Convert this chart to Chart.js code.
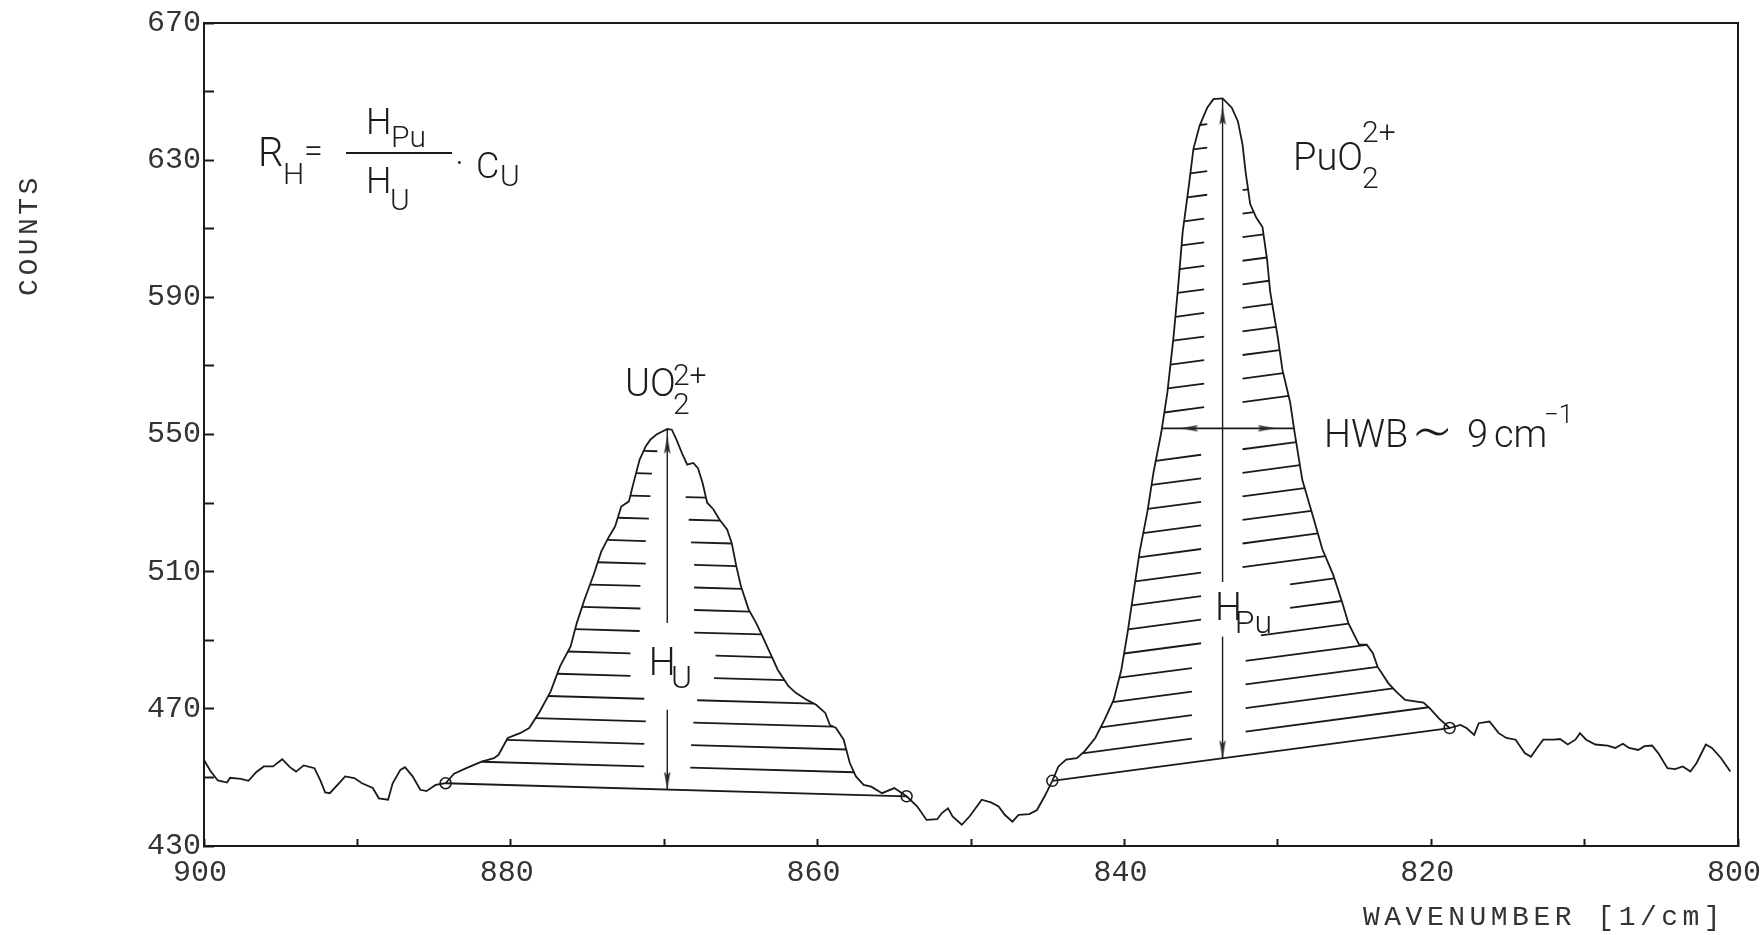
<!DOCTYPE html>
<html>
<head>
<meta charset="utf-8">
<script src="https://cdn.jsdelivr.net/npm/chart.js@4.4.1/dist/chart.umd.min.js"></script>
<style>
html,body{margin:0;padding:0;background:#fff;}
canvas{display:block;}
</style>
</head>
<body>
<canvas id="c" width="1760" height="935" style="width:1760px;height:935px"></canvas>
<script>
// ---------------- data ----------------
const waveNumber = [
900.0,899.6,899.1,898.5,898.3,897.6,897.1,896.6,896.1,895.5,894.9,894.4,894.0,893.5,892.8,892.4,892.1,891.8,891.1,890.8,
890.2,889.7,889.0,888.6,888.0,887.7,887.2,886.9,886.4,885.9,885.5,884.9,884.25,883.7,882.9,881.9,881.1,880.8,880.2,879.4,
878.8,878.1,877.4,876.8,876.1,875.7,875.2,874.6,874.1,873.6,873.2,872.8,872.3,872.0,871.6,871.2,870.9,870.5,869.8,869.5,
869.2,868.8,868.5,868.1,867.8,867.5,867.2,866.8,866.4,865.9,865.6,865.3,865.0,864.5,864.0,863.6,863.1,862.6,861.9,861.4,
860.7,860.1,859.5,859.2,858.8,858.3,857.9,857.5,857.0,856.5,855.8,855.0,854.2,853.5,852.9,852.2,851.9,851.5,851.2,850.6,
850.1,849.3,848.7,848.2,847.8,847.3,846.9,846.2,845.7,845.2,844.7,844.3,843.8,843.1,842.6,841.9,841.3,840.7,840.2,839.8,
839.4,839.0,838.5,838.1,837.6,837.2,836.8,836.5,836.2,835.8,835.5,835.1,834.6,834.2,833.6,833.0,832.6,832.3,832.1,831.8,
831.4,831.0,830.7,830.5,830.0,829.7,829.2,828.9,828.4,827.7,827.1,826.4,825.8,825.4,824.7,824.2,823.8,823.5,822.8,822.3,
821.7,820.5,820.1,819.5,818.8,818.1,817.7,817.2,816.9,816.2,815.6,815.1,814.5,813.9,813.5,813.1,812.7,812.0,811.6,811.1,
810.6,810.3,809.9,809.3,808.5,808.0,807.5,807.1,806.5,806.1,805.6,805.2,804.6,804.1,803.6,803.1,802.7,802.1,801.7,801.1,
800.5
];
const counts = [
455.1,452.0,449.1,448.5,449.9,449.6,449.0,451.5,453.2,453.2,455.3,453.0,451.7,453.5,452.7,449.0,445.6,445.4,448.8,450.3,
449.8,448.3,446.9,443.9,443.5,448.3,452.2,453.0,450.3,446.4,446.0,447.8,448.3,451.1,452.7,454.6,455.6,456.6,461.5,462.9,
464.4,469.3,475.1,482.3,488.2,495.0,501.8,509.1,515.9,520.2,523.2,529.0,530.5,535.9,542.7,546.6,548.5,550.0,551.6,551.4,
548.5,544.1,541.2,541.7,540.2,535.9,530.1,528.2,525.2,522.3,518.4,511.6,505.8,499.0,495.0,491.2,486.3,481.4,476.6,474.6,
472.6,471.2,468.8,465.3,464.4,461.0,454.2,450.3,447.8,447.3,445.4,446.9,444.5,441.5,437.6,437.8,439.6,441.0,438.6,436.2,
438.6,443.5,442.7,441.5,439.1,437.1,439.1,439.3,440.5,444.5,449.0,453.2,455.2,455.6,457.6,461.5,466.8,472.6,481.4,492.0,
504.0,516.0,527.5,539.0,550.5,562.2,578.3,593.0,609.1,622.5,633.3,640.0,645.3,647.8,648.0,645.3,641.3,634.6,626.6,617.2,
613.2,610.5,601.1,591.7,578.3,568.9,559.5,550.5,536.7,526.0,516.6,509.2,501.0,495.0,488.7,488.7,486.2,482.3,477.5,475.1,
472.6,471.8,470.2,467.2,464.4,465.3,464.4,462.4,465.8,466.3,462.9,461.5,461.0,457.1,456.0,458.6,461.0,461.0,461.2,459.6,
461.0,462.9,461.0,459.6,459.3,458.6,459.8,458.6,458.0,459.1,459.3,457.1,452.7,452.4,453.2,451.7,454.2,459.6,458.6,455.6,
451.7
];

// axis tick labels
const xTickLabels = [900, 880, 860, 840, 820, 800];
const yTickLabels = [430, 470, 510, 550, 590, 630, 670];

// baseline anchor points (wavenumber, counts) of the two peaks
const uBaseX = [884.25, 854.2];
const uBaseY = [448.3, 444.5];
const puBaseX = [844.7, 818.8];
const puBaseY = [449.0, 464.4];

// hatching: number of height divisions and gaps left/right of the height arrow (cm-1)
const uDivisions = 16;
const uGapLeft  = [1.5,1.5,1.4,1.5,2.4,2.4,1.8,1.75,1.75,1.4,1.4,1.2,1.1,1.0,0.65];
const uGapRight = [1.5,1.55,1.7,1.95,3.05,3.15,1.75,1.75,1.75,1.75,1.55,1.4,1.2,9,9];
const puDivisions = 28;
const puGapLeft  = [2.0,2.0,2.0,2.0,1.4,1.4,1.4,1.4,1.4,1.4,1.4,1.4,1.4,0,1.2,1.2,1.2,1.2,1.2,1.2,1.2,1.2,1.2,1.0,1.0,1.0,1.0];
const puGapRight = [1.5,1.5,1.5,1.5,2.5,4.4,4.4,1.3,1.3,1.3,1.3,1.3,1.3,0,1.3,1.3,1.3,1.3,1.3,1.3,1.3,1.3,1.3,1.3,1.3,1.3,1.3];
const puHwbLine = 14;

// where the vertical height arrows are interrupted by their labels (counts)
const uArrowBreak = [495.0, 469.7];
const puArrowBreak = [507.0, 491.0];

// fraction bar of the formula
const fracBarX = [890.74, 883.83];
const fracBarY = [632.1, 632.1];

// annotation texts (data coordinates of text baseline start)
const annotText = ['R','H','=','H','Pu','H','U','\u00B7','C','U',
                   'UO','2','2+','PuO','2','2+',
                   'HWB','\u223C','9','cm','\u22121',
                   'H','U','H','Pu'];
const annotX = [896.48,894.85,893.48,889.44,887.81,889.44,887.87,883.64,882.27,880.70,
                872.56,869.43,869.43,829.01,824.51,824.51,
                826.99,821.3,817.67,815.91,812.65,
                871.0,869.55,834.1,832.8];
const annotY = [628.3,623.1,629.5,637.6,633.9,620.4,615.5,625.4,624.8,622.5,
                561.3,556.0,564.4,627.1,621.9,635.2,
                546.4,544.0,546.4,546.4,553.4,
                479.9,476.1,495.9,492.2];
const annotSize = [40,30,34,36,30,36,30,36,36,30,
                   38,30,30,38,30,30,
                   38,66,38,38,26,
                   38,32,38,32];
const annotFamily = ['main','main','main','main','main','main','main','main','main','main',
                     'main','main','main','main','main','main',
                     'main','sym','main','main','main',
                     'main','main','main','main'];

// ---------------- derived geometry ----------------
function makeBase(bx, by) {
  const m = (by[1] - by[0]) / (bx[1] - bx[0]);
  return x => by[0] + (x - bx[0]) * m;
}
function peakIdx(bx) {
  let ip = -1;
  for (let i = 0; i < waveNumber.length; i++) {
    const w = waveNumber[i];
    if (w < bx[0] && w > bx[1] && (ip < 0 || counts[i] > counts[ip])) ip = i;
  }
  return ip;
}
function cross(ip, base, lev, dir) {
  let i = ip;
  while (i + dir >= 0 && i + dir < waveNumber.length) {
    const j = i + dir;
    const a = counts[i] - base(waveNumber[i]) - lev;
    const b = counts[j] - base(waveNumber[j]) - lev;
    if (a >= 0 && b < 0) {
      const t = a / (a - b);
      return waveNumber[i] + t * (waveNumber[j] - waveNumber[i]);
    }
    i = j;
  }
  return waveNumber[i];
}
function hatchSegments(bx, by, div, gL, gR, skip) {
  const base = makeBase(bx, by), ip = peakIdx(bx), px = waveNumber[ip];
  const d = (counts[ip] - base(px)) / div;
  const out = [];
  for (let k = 1; k < div; k++) {
    if (k === skip) continue;
    const lev = k * d;
    const xl = cross(ip, base, lev, -1), xr = cross(ip, base, lev, 1);
    const le = px + gL[k - 1], rs = px - gR[k - 1];
    if (xl - le > 0.2) out.push({x: xl, y: base(xl) + lev}, {x: le, y: base(le) + lev}, {x: le, y: null});
    if (rs - xr > 0.2) out.push({x: rs, y: base(rs) + lev}, {x: xr, y: base(xr) + lev}, {x: xr, y: null});
  }
  return out;
}
function arrowSegs(bx, by, brk) {
  const base = makeBase(bx, by), ip = peakIdx(bx), px = waveNumber[ip];
  return [{x: px, y: counts[ip]}, {x: px, y: brk[0]}, {x: px, y: null},
          {x: px, y: brk[1]}, {x: px, y: base(px)}];
}

const spectrum = waveNumber.map((w, i) => ({x: w, y: counts[i]}));
const uBase = makeBase(uBaseX, uBaseY), puBase = makeBase(puBaseX, puBaseY);
const ipU = peakIdx(uBaseX), ipPu = peakIdx(puBaseX);
const pxU = waveNumber[ipU], pxPu = waveNumber[ipPu];
const hwbLevel = (counts[ipPu] + puBase(pxPu)) / 2;
const flat = () => hwbLevel;
const hwbL = cross(ipPu, flat, 0, -1), hwbR = cross(ipPu, flat, 0, 1);

// dart-shaped arrow head used as point style
const dart = document.createElement('canvas');
dart.width = 8; dart.height = 18;
(function () {
  const g = dart.getContext('2d');
  g.beginPath(); g.moveTo(4, 0); g.lineTo(7.2, 18); g.lineTo(4, 14.5); g.lineTo(0.8, 18); g.closePath();
  g.fillStyle = '#2a2a2a'; g.fill();
})();
const halfDartY = 2.6, halfDartX = 0.59;   // half dart length in counts / cm-1
const heads = [
  {x: pxU, y: counts[ipU] - 2 - halfDartY},
  {x: pxU, y: uBase(pxU) + halfDartY},
  {x: pxPu, y: counts[ipPu] - 2.5 - halfDartY},
  {x: pxPu, y: puBase(pxPu) + halfDartY},
  {x: hwbL - 1.2 - halfDartX, y: hwbLevel},
  {x: hwbR + 1.2 + halfDartX, y: hwbLevel}
];
const headRot = [0, 180, 0, 180, 270, 90];

const INK = '#1a1a1a';
const lineDs = (data, w, order) => ({data, showLine: true, borderColor: INK, borderWidth: w,
  pointRadius: 0, pointHoverRadius: 0, spanGaps: false, tension: 0, order});

// ---------------- plugin for texts ----------------
const FAMILIES = {
  main: 'Roboto, "Liberation Sans", "DejaVu Sans", sans-serif',
  sym: '"DejaVu Sans", "Liberation Sans", sans-serif'
};
const textPlugin = {
  id: 'texts',
  afterDraw(chart) {
    const {ctx, chartArea} = chart;
    const xs = chart.scales.x, ys = chart.scales.y;
    ctx.save();
    ctx.fillStyle = '#1c1c1c';
    ctx.textBaseline = 'alphabetic';
    ctx.textAlign = 'left';
    for (let i = 0; i < annotText.length; i++) {
      const w = annotFamily[i] === 'sym' ? '200 ' : '300 ';
      ctx.font = w + annotSize[i] + 'px ' + FAMILIES[annotFamily[i]];
      ctx.fillText(annotText[i], xs.getPixelForValue(annotX[i]), ys.getPixelForValue(annotY[i]));
    }
    // axis titles
    ctx.font = '28px "Liberation Mono", monospace';
    ctx.fillStyle = '#333';
    try { ctx.letterSpacing = '3.5px'; } catch (e) {}
    ctx.save();
    ctx.translate(chartArea.left - 174, chartArea.top + 212);
    ctx.rotate(-Math.PI / 2);
    ctx.textAlign = 'center';
    ctx.textBaseline = 'middle';
    ctx.fillText('COUNTS', 0, 0);
    ctx.restore();
    try { ctx.letterSpacing = '4.5px'; } catch (e) {}
    ctx.textAlign = 'left';
    ctx.textBaseline = 'alphabetic';
    ctx.fillText('WAVENUMBER [1/cm]', chartArea.right - 375, chartArea.bottom + 79);
    try { ctx.letterSpacing = '0px'; } catch (e) {}
    ctx.restore();
  }
};

const tickFont = {family: '"Liberation Mono", "DejaVu Sans Mono", monospace', size: 30};

new Chart(document.getElementById('c'), {
  type: 'scatter',
  data: {
    datasets: [
      {data: [{x: uBaseX[0], y: uBaseY[0]}, {x: uBaseX[1], y: uBaseY[1]}, {x: puBaseX[0], y: puBaseY[0]}, {x: puBaseX[1], y: puBaseY[1]}],
       showLine: false, pointStyle: 'circle', pointRadius: 5.5, pointBorderWidth: 1.5,
       pointBackgroundColor: 'rgba(255,255,255,0)', pointBorderColor: INK, order: 0},
      {data: heads, showLine: false, pointStyle: dart, pointRadius: 6, pointRotation: headRot, order: 1},
      lineDs(spectrum, 1.8, 2),
      lineDs([{x: uBaseX[0], y: uBaseY[0]}, {x: uBaseX[1], y: uBaseY[1]}], 1.8, 3),
      lineDs([{x: puBaseX[0], y: puBaseY[0]}, {x: puBaseX[1], y: puBaseY[1]}], 1.8, 3),
      lineDs(hatchSegments(uBaseX, uBaseY, uDivisions, uGapLeft, uGapRight, -1), 1.8, 4),
      lineDs(hatchSegments(puBaseX, puBaseY, puDivisions, puGapLeft, puGapRight, puHwbLine), 1.8, 4),
      lineDs(arrowSegs(uBaseX, uBaseY, uArrowBreak), 1.4, 5),
      lineDs(arrowSegs(puBaseX, puBaseY, puArrowBreak), 1.4, 5),
      lineDs([{x: hwbL, y: hwbLevel}, {x: hwbR, y: hwbLevel}], 1.6, 5),
      lineDs([{x: fracBarX[0], y: fracBarY[0]}, {x: fracBarX[1], y: fracBarY[1]}], 2, 5)
    ]
  },
  options: {
    responsive: false,
    devicePixelRatio: 1,
    animation: false,
    events: [],
    layout: {padding: {top: 23, right: 22, bottom: 0, left: 0}},
    plugins: {legend: {display: false}, tooltip: {enabled: false}},
    scales: {
      x: {
        type: 'linear', position: 'bottom', reverse: true, min: 800, max: 900,
        border: {display: true, color: INK, width: 2},
        grid: {drawOnChartArea: false, drawTicks: true, tickLength: -7, color: INK, tickColor: INK, tickWidth: 2},
        ticks: {stepSize: 10, autoSkip: false, maxRotation: 0, minRotation: 0, padding: 16, labelOffset: -4,
                color: '#333', font: tickFont,
                callback: v => xTickLabels.includes(v) ? String(v) : ''},
        afterFit(s) { s.height = 89; s.paddingLeft = 0; s.paddingRight = 0; }
      },
      y: {
        type: 'linear', position: 'left', min: 430, max: 670,
        border: {display: true, color: INK, width: 2},
        grid: {drawOnChartArea: false, drawTicks: true, tickLength: -10, color: INK, tickColor: INK, tickWidth: 2},
        ticks: {stepSize: 20, autoSkip: false, padding: 13, color: '#333', font: tickFont,
                callback: v => yTickLabels.includes(v) ? String(v) : ''},
        afterFit(s) { s.width = 204; s.paddingTop = 0; s.paddingBottom = 0; }
      },
      x2: {
        type: 'linear', position: 'top', display: true,
        border: {display: true, color: INK, width: 2},
        grid: {display: false, drawTicks: false}, ticks: {display: false},
        afterFit(s) { s.height = 0; s.paddingLeft = 0; s.paddingRight = 0; }
      },
      y2: {
        type: 'linear', position: 'right', display: true,
        border: {display: true, color: INK, width: 2},
        grid: {display: false, drawTicks: false}, ticks: {display: false},
        afterFit(s) { s.width = 0; s.paddingTop = 0; s.paddingBottom = 0; }
      }
    }
  },
  plugins: [textPlugin]
});
</script>
</body>
</html>
